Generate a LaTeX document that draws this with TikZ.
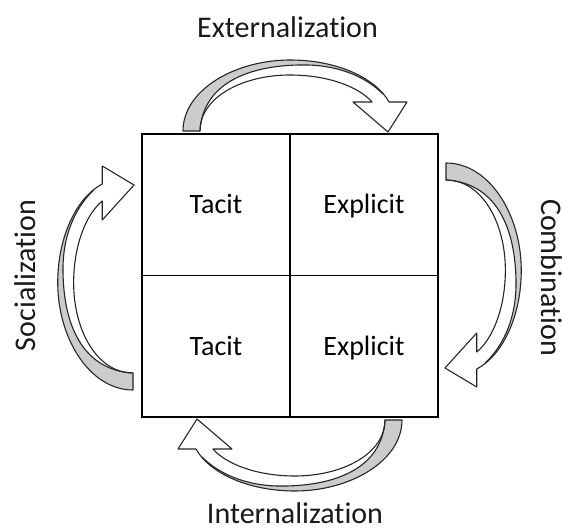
\documentclass[tikz,border=0pt]{standalone}
\usepackage{fontspec}
\setmainfont{Carlito}[Ligatures={NoCommon,NoRequired,NoContextual}]
\newcommand{\kmti}{t\kern0pt i}
\def\kmband{(0,0) .. controls (0,41) and (52,71) .. (107,71) .. controls (157,71) and (194,51) .. (206,29) -- (224,29) -- (205,-1) -- (170,29) -- (189,29) .. controls (177,43) and (147,56) .. (107,56) .. controls (60,56) and (17,34) .. (17,0) -- cycle}
\def\kmmid{(17,0) .. controls (20,50) and (70,67) .. (125,66) .. controls (160,65) and (185,52) .. (200,37)}
\newcommand{\kmarrow}{%
  \fill[white] \kmband;
  \begin{scope}
    \clip \kmband;
    \fill[black!20] \kmmid -- (215,50) -- (150,110) -- (50,110) -- (-30,60) -- (-30,-2) -- (17,-2) -- cycle;
  \end{scope}
  \draw[arrowline] \kmmid;
  \draw[arrowline] \kmband;
}
\tikzset{
  arrowline/.style={draw=black!85, line width=1.1pt, line join=round},
  grid/.style={draw=black, line width=1.5pt},
  cell/.style={minimum width=148pt, minimum height=141.5pt, inner sep=0pt, outer sep=0pt, font=\fontsize{28}{30}\selectfont, text depth=0pt, text height=18pt},
  lbl/.style={font=\fontsize{30}{32}\selectfont, inner sep=0pt, anchor=base, text=black!90}
}
\begin{document}
\begin{tikzpicture}[x=1pt,y=1pt]
\useasboundingbox (0,0) rectangle (563,531);
\node[cell] (tl) at (216,326.25) {Tacit};
\node[cell] (tr) at (364,326.25) {Explicit};
\node[cell] (bl) at (216,184.75) {Tacit};
\node[cell] (br) at (364,184.75) {Explicit};
\draw[grid] (tl.north west) rectangle (br.south east);
\draw[grid] (tl.north east) -- (br.south west);
\draw[grid] (tl.south west) -- (br.north east);
\node[lbl] (ext) at (287.5,493.3) {Externaliza\kmti on};
\node[lbl] (int) at (295,8) {Internaliza\kmti on};
\node[lbl, rotate=90] (soc) at (35,255.5) {Socializa\kmti on};
\node[lbl, rotate=-90] (com) at (541,253.5) {Combina\kmti on};
\begin{scope}[shift={(183,400)}] \kmarrow \end{scope}
\begin{scope}[shift={(446,368)}, rotate=-90, yscale=1.06] \kmarrow \end{scope}
\begin{scope}[shift={(402,111)}, rotate=180] \kmarrow \end{scope}
\begin{scope}[shift={(133,141)}, rotate=90, yscale=1.06] \kmarrow \end{scope}
\end{tikzpicture}
\end{document}
